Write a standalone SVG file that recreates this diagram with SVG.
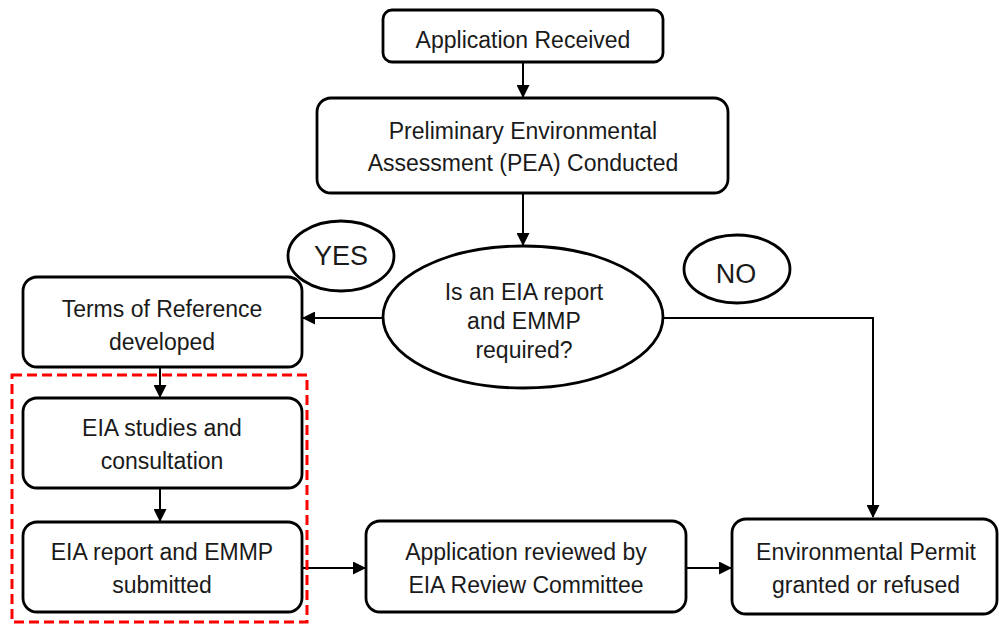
<svg xmlns="http://www.w3.org/2000/svg" width="999" height="625" viewBox="0 0 999 625">
<style>
.box{fill:#fff;stroke:#000;stroke-width:2.8}
.t{font-family:"Liberation Sans",Arial,sans-serif;font-size:23px;fill:#1a1a1a;text-anchor:middle}
.big{font-size:27px}
.c{fill:none;stroke:#000;stroke-width:2}
</style>
<defs>
<marker id="ah" markerWidth="13" markerHeight="13" refX="12" refY="6.5" orient="auto" markerUnits="userSpaceOnUse">
<path d="M0,0 L13,6.5 L0,13 Z" fill="#000"/>
</marker>
</defs>
<rect width="999" height="625" fill="#fff"/>
<g id="connectors">
<line class="c" x1="523" y1="62" x2="523" y2="97" marker-end="url(#ah)"/>
<line class="c" x1="523" y1="193" x2="523" y2="245" marker-end="url(#ah)"/>
<line class="c" x1="383" y1="318" x2="303" y2="318" marker-end="url(#ah)"/>
<polyline class="c" points="664,318 873,318 873,517" marker-end="url(#ah)"/>
<line class="c" x1="160" y1="367" x2="160" y2="397" marker-end="url(#ah)"/>
<line class="c" x1="160" y1="488" x2="160" y2="521" marker-end="url(#ah)"/>
<line class="c" x1="302" y1="568" x2="365" y2="568" marker-end="url(#ah)"/>
<line class="c" x1="686" y1="568" x2="731" y2="568" marker-end="url(#ah)"/>
</g>
<g id="group-box">
<rect x="12" y="375" width="295" height="247" fill="none" stroke="#ff0000" stroke-width="3" stroke-dasharray="10,5"/>
</g>
<g id="yes">
<ellipse class="box" cx="341" cy="256" rx="53" ry="35"/>
<text class="t big" x="341" y="265">YES</text>
</g>
<g id="no">
<ellipse class="box" cx="737" cy="269" rx="53" ry="34"/>
<text class="t big" x="736" y="283">NO</text>
</g>
<g id="app-received">
<rect class="box" x="383" y="10" width="280" height="52" rx="9"/>
<text class="t" x="523" y="48">Application Received</text>
</g>
<g id="pea">
<rect class="box" x="317" y="98" width="411" height="95" rx="14"/>
<text class="t" x="523" y="139">Preliminary Environmental</text>
<text class="t" x="523" y="171">Assessment (PEA) Conducted</text>
</g>
<g id="decision">
<ellipse class="box" cx="523" cy="317" rx="140" ry="71"/>
<text class="t" x="524" y="300">Is an EIA report</text>
<text class="t" x="524" y="329">and EMMP</text>
<text class="t" x="524" y="358">required?</text>
</g>
<g id="tor">
<rect class="box" x="23" y="277" width="279" height="90" rx="14"/>
<text class="t" x="162" y="317">Terms of Reference</text>
<text class="t" x="162" y="350">developed</text>
</g>
<g id="eia-studies">
<rect class="box" x="23" y="398" width="279" height="90" rx="14"/>
<text class="t" x="162" y="436">EIA studies and</text>
<text class="t" x="162" y="469">consultation</text>
</g>
<g id="eia-report">
<rect class="box" x="23" y="522" width="279" height="90" rx="14"/>
<text class="t" x="162" y="560">EIA report and EMMP</text>
<text class="t" x="162" y="593">submitted</text>
</g>
<g id="review">
<rect class="box" x="366" y="521" width="320" height="91" rx="14"/>
<text class="t" x="526" y="560">Application reviewed by</text>
<text class="t" x="526" y="593">EIA Review Committee</text>
</g>
<g id="permit">
<rect class="box" x="732" y="519" width="265" height="95" rx="14"/>
<text class="t" x="866" y="560">Environmental Permit</text>
<text class="t" x="866" y="593">granted or refused</text>
</g>
</svg>
